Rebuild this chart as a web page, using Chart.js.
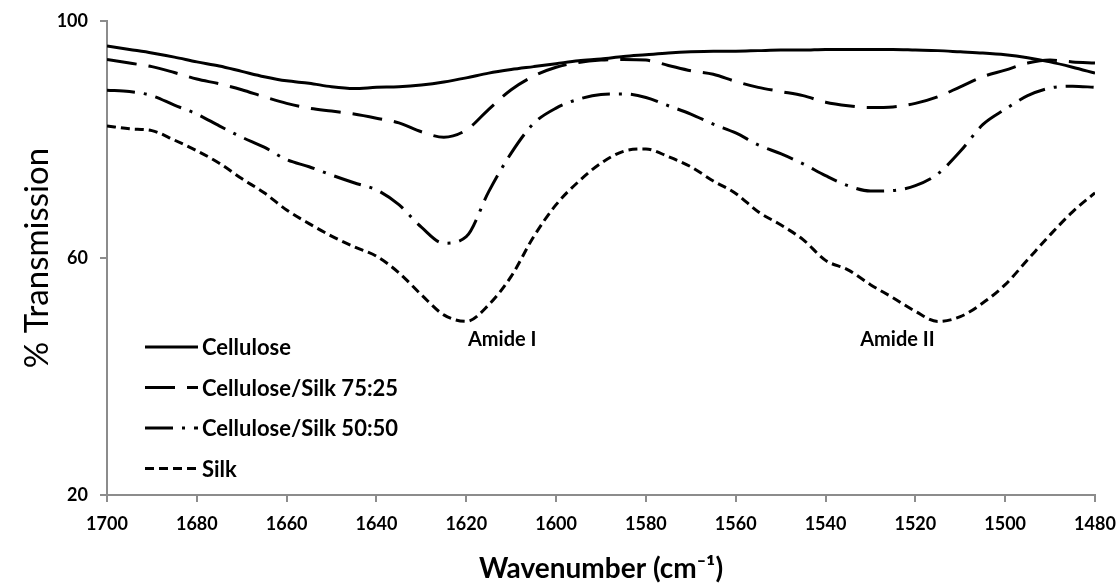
<!DOCTYPE html>
<html>
<head>
<meta charset="utf-8">
<script src="https://cdn.jsdelivr.net/npm/chart.js@4.4.1/dist/chart.umd.min.js"></script>
<style>
  html, body { margin: 0; padding: 0; background: #fff; }
  #wrap { width: 1118px; height: 586px; }
</style>
</head>
<body>
<div id="wrap"><canvas id="ftirChart" width="1118" height="586"></canvas></div>
<script>
// wavenumbers, cm-1 (5 cm-1 steps)
const wavenumbers = [1700, 1695, 1690, 1685, 1680, 1675, 1670, 1665, 1660, 1655, 1650, 1645, 1640, 1635, 1630, 1625,
    1620, 1615, 1610, 1605, 1600, 1595, 1590, 1585, 1580, 1575, 1570, 1565, 1560, 1555, 1550, 1545, 1540, 1535,
    1530, 1525, 1520, 1515, 1510, 1505, 1500, 1495, 1490, 1485, 1480];

const cellulose = [95.8, 95.2, 94.6, 93.9, 93.1, 92.4, 91.5, 90.6, 89.9, 89.5, 88.9, 88.6, 88.8, 88.9, 89.2, 89.7,
    90.4, 91.2, 91.8, 92.3, 92.8, 93.3, 93.6, 94.0, 94.3, 94.6, 94.8, 94.9, 94.9, 95.0, 95.1, 95.1, 95.2, 95.2,
    95.2, 95.2, 95.1, 95.0, 94.8, 94.6, 94.3, 93.8, 93.1, 92.2, 91.2];

const silk7525 = [93.5, 92.9, 92.3, 91.3, 90.2, 89.4, 88.4, 87.2, 86.1, 85.3, 84.8, 84.3, 83.6, 82.8, 81.3, 80.4,
    81.6, 85.1, 88.4, 90.7, 92.2, 93.0, 93.4, 93.5, 93.4, 92.5, 91.6, 91.0, 89.8, 88.8, 88.1, 87.4, 86.3, 85.7,
    85.4, 85.5, 86.1, 87.2, 88.9, 90.6, 91.7, 92.9, 93.4, 93.1, 92.9];

const silk5050 = [88.3, 88.1, 87.4, 85.8, 84.3, 82.3, 80.4, 78.7, 76.6, 75.4, 74.0, 72.7, 71.5, 69.0, 65.2, 62.5,
    63.6, 71.2, 77.7, 82.7, 85.3, 86.8, 87.6, 87.7, 87.1, 85.7, 84.3, 82.6, 81.1, 79.1, 77.6, 75.9, 73.9, 72.2,
    71.3, 71.4, 72.2, 74.2, 78.0, 82.5, 85.1, 87.4, 88.7, 89.0, 88.8];

const silk = [82.3, 81.8, 81.5, 79.9, 78.1, 76.0, 73.4, 71.0, 68.1, 65.8, 63.7, 61.9, 60.3, 57.5, 53.8, 50.4,
    49.3, 52.1, 56.9, 63.6, 69.0, 72.9, 76.0, 78.0, 78.4, 77.1, 75.4, 73.0, 70.9, 67.8, 65.6, 63.1, 59.6, 58.0,
    55.5, 53.3, 51.0, 49.3, 50.1, 52.4, 55.5, 59.7, 63.9, 67.8, 71.0];

const seriesNames = ['Cellulose', 'Cellulose/Silk 75:25', 'Cellulose/Silk 50:50', 'Silk'];
const seriesDashes = [[], [30, 12], [28, 9, 3, 9], [9, 5]];
const seriesValues = [cellulose, silk7525, silk5050, silk];

const xTicks = [1700, 1680, 1660, 1640, 1620, 1600, 1580, 1560, 1540, 1520, 1500, 1480];
const yTicks = [20, 60, 100];

const peakLabels = ['Amide I', 'Amide II'];
const peakPositions = [1612, 1524];
const peakLevel = 46.2;

const axisGray = '#8c8c8c';
const tickFont = { family: 'Lato', size: 18, weight: 'bold' };

const datasets = seriesNames.map((name, i) => ({
    label: name,
    data: wavenumbers.map((w, j) => ({ x: w, y: seriesValues[i][j] })),
    borderColor: '#000',
    borderWidth: 3,
    borderDash: seriesDashes[i],
    pointRadius: 0,
    tension: 0.4,
    cubicInterpolationMode: 'monotone',
    fill: false
}));

// legend drawn inside the plot area, lower left, plus the two peak labels
const innerLegend = {
    id: 'innerLegend',
    afterDatasetsDraw(chart) {
        const ctx = chart.ctx;
        const a = chart.chartArea;
        const x0 = a.left + 38, len = 53;
        ctx.save();
        ctx.font = 'bold 22px Lato';
        ctx.textBaseline = 'middle';
        ctx.fillStyle = '#000';
        seriesNames.forEach((name, i) => {
            const y = a.top + 326 + i * 40.5;
            ctx.beginPath();
            ctx.setLineDash(seriesDashes[i]);
            ctx.lineWidth = 3;
            ctx.strokeStyle = '#000';
            ctx.moveTo(x0, y);
            ctx.lineTo(x0 + len, y);
            ctx.stroke();
            ctx.setLineDash([]);
            ctx.fillText(name, x0 + len + 4, y + 1);
        });
        const xs = chart.scales.x, ys = chart.scales.y;
        ctx.textAlign = 'center';
        ctx.font = 'bold 20px Lato';
        peakLabels.forEach((t, i) => {
            ctx.fillText(t, xs.getPixelForValue(peakPositions[i]), ys.getPixelForValue(peakLevel));
        });
        ctx.restore();
    }
};

new Chart(document.getElementById('ftirChart'), {
    type: 'line',
    data: { datasets: datasets },
    options: {
        responsive: false,
        animation: false,
        events: [],
        layout: { padding: { top: 21, right: 23, left: 0, bottom: 0 } },
        plugins: {
            legend: { display: false },
            tooltip: { enabled: false }
        },
        scales: {
            x: {
                type: 'linear',
                reverse: true,
                min: 1480,
                max: 1700,
                afterBuildTicks: s => { s.ticks = xTicks.map(v => ({ value: v })); },
                afterFit: s => { s.height = 91; s.paddingLeft = 0; s.paddingRight = 0; },
                ticks: { font: tickFont, color: '#000', padding: 11, maxRotation: 0, callback: v => String(v) },
                grid: { drawOnChartArea: false, drawTicks: true, tickLength: 7, color: axisGray, lineWidth: 2 },
                border: { display: true, color: axisGray, width: 2 },
                title: {
                    display: true,
                    text: 'Wavenumber (cm⁻¹)',
                    font: { family: 'Lato', size: 28, weight: 'bold' },
                    color: '#000',
                    padding: { top: 0, bottom: 0 }
                }
            },
            y: {
                min: 20,
                max: 100,
                afterBuildTicks: s => { s.ticks = yTicks.map(v => ({ value: v })); },
                afterFit: s => { s.width = 107; s.paddingTop = 0; s.paddingBottom = 0; },
                ticks: { font: tickFont, color: '#000', padding: 12, callback: v => String(v) },
                grid: { drawOnChartArea: false, drawTicks: true, tickLength: 7, color: axisGray, lineWidth: 2 },
                border: { display: true, color: axisGray, width: 2 },
                title: {
                    display: true,
                    text: '% Transmission',
                    font: { family: 'Lato', size: 33 },
                    color: '#000',
                    padding: { top: 18, bottom: 0 }
                }
            }
        }
    },
    plugins: [innerLegend]
});
</script>
</body>
</html>
